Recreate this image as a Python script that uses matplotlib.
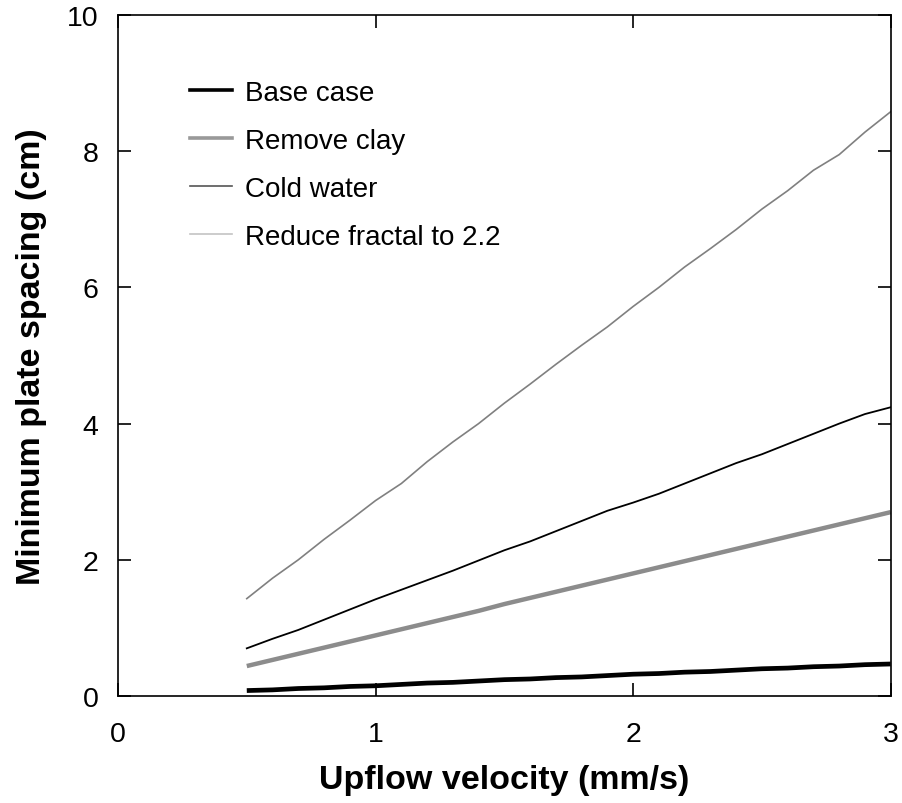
import matplotlib
matplotlib.use("Agg")
import matplotlib.pyplot as plt
from matplotlib.lines import Line2D

plt.rcParams['font.family'] = ['Liberation Sans', 'DejaVu Sans']

velocity = [0.5, 0.6, 0.7, 0.8, 0.9, 1.0, 1.1, 1.2, 1.3, 1.4, 1.5, 1.6, 1.7,
            1.8, 1.9, 2.0, 2.1, 2.2, 2.3, 2.4, 2.5, 2.6, 2.7, 2.8, 2.9, 3.0]
base_case = [0.08, 0.09, 0.11, 0.12, 0.14, 0.15, 0.17, 0.19, 0.20, 0.22, 0.24, 0.25, 0.27,
             0.28, 0.30, 0.32, 0.33, 0.35, 0.36, 0.38, 0.40, 0.41, 0.43, 0.44, 0.46, 0.47]
remove_clay = [0.44, 0.53, 0.62, 0.71, 0.80, 0.89, 0.98, 1.07, 1.16, 1.25, 1.35, 1.44, 1.53,
               1.62, 1.71, 1.80, 1.89, 1.98, 2.07, 2.16, 2.25, 2.34, 2.43, 2.52, 2.61, 2.70]
cold_water = [0.70, 0.84, 0.97, 1.12, 1.27, 1.42, 1.56, 1.70, 1.84, 1.99, 2.14, 2.27, 2.42,
              2.57, 2.72, 2.84, 2.97, 3.12, 3.27, 3.42, 3.55, 3.70, 3.85, 4.00, 4.14, 4.24]
reduce_fractal = [1.43, 1.73, 2.00, 2.30, 2.58, 2.87, 3.12, 3.44, 3.73, 4.00, 4.30, 4.58, 4.87,
                  5.15, 5.42, 5.72, 6.00, 6.30, 6.57, 6.85, 7.15, 7.42, 7.72, 7.95, 8.28, 8.58]
labels = ["Base case", "Remove clay", "Cold water", "Reduce fractal to 2.2"]

fig = plt.figure(figsize=(9.02, 8.04), dpi=100)
ax = fig.add_axes([118/902, 1-697/804, (890.7-118)/902, (697-16)/804])

ax.plot(velocity, base_case, color='black', lw=3.4, solid_capstyle='butt')
ax.plot(velocity, remove_clay, color='#8c8c8c', lw=3.2, solid_capstyle='butt')
ax.plot(velocity, cold_water, color='black', lw=1.3)
ax.plot(velocity, reduce_fractal, color='#808080', lw=1.2)

ax.set_xlim(0, 3)
ax.set_ylim(0, 10)
ax.set_xticks([0, 1, 2, 3])
ax.set_yticks([0, 2, 4, 6, 8, 10])
ax.tick_params(direction='in', length=9.5, width=1.2, top=True, right=True,
               labelsize=20.5)
ax.tick_params(axis='x', pad=18)
ax.tick_params(axis='y', pad=14)
for s in ax.spines.values():
    s.set_linewidth(1.2)

ax.set_xlabel("Upflow velocity (mm/s)", fontsize=24.5, fontweight='bold', labelpad=12)
ax.set_ylabel("Minimum plate spacing (cm)", fontsize=24.5, fontweight='bold', labelpad=14)

handles = [Line2D([], [], color='black', lw=2.6),
           Line2D([], [], color='#999999', lw=2.6),
           Line2D([], [], color='#555555', lw=1.2),
           Line2D([], [], color='#c4c4c4', lw=1.2)]
ax.legend(handles, labels, loc='upper left', bbox_to_anchor=(0.093, 0.905),
          frameon=False, fontsize=20, handlelength=1.5, handletextpad=0.5,
          labelspacing=0.79, borderpad=0, borderaxespad=0)

fig.savefig("out.png", dpi=100)
